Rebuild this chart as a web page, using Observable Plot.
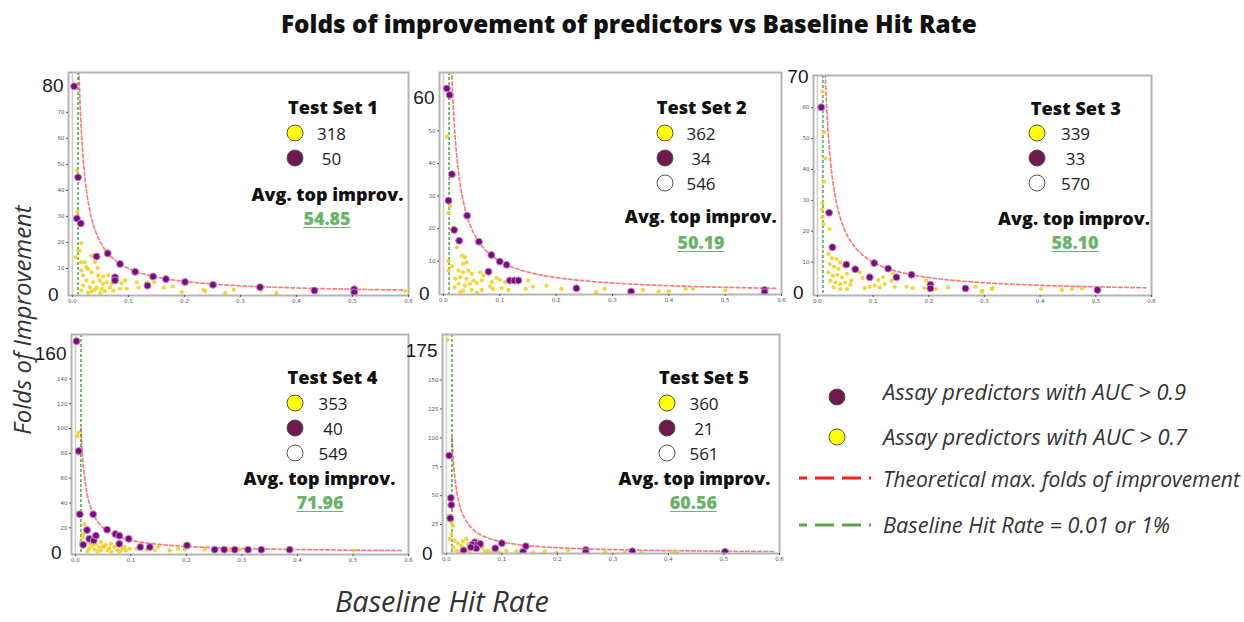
<!DOCTYPE html>
<html>
<head>
<meta charset="utf-8">
<script src="https://cdn.jsdelivr.net/npm/d3@7"></script>
<script src="https://cdn.jsdelivr.net/npm/@observablehq/plot@0.6"></script>
<style>
  html, body { margin: 0; padding: 0; background: #fff; }
  #root { position: relative; width: 1244px; height: 622px; overflow: hidden; font-family: "Open Sans", Lato, sans-serif; color: #111; }
  .abs { position: absolute; white-space: nowrap; line-height: 1; }
  .center { transform: translate(-50%, -50%); }
  .setTitle { font-weight: 800; font-size: 17px; color: #111; }
  .count { font-family: "Open Sans", sans-serif; font-size: 17px; color: #222; }
  .avgLabel { font-weight: 800; font-size: 17px; color: #111; }
  .avgValue { font-weight: 800; font-size: 17px; color: #6ab46a; text-decoration: underline; text-underline-offset: 2px; }
  .swatch { position: absolute; width: 15px; height: 15px; border-radius: 50%; border: 1px solid #555; transform: translate(-50%, -50%); }
  .legendText { font-style: italic; font-size: 18px; color: #333; }
  .axisTitle { font-style: italic; font-size: 19px; color: #333; }
</style>
</head>
<body>
<div id="root"></div>
<script>
// ---- data --------------------------------------------------------------
const setNames = ["Test Set 1", "Test Set 2", "Test Set 3", "Test Set 4", "Test Set 5"];
const countAUC07 = [318, 362, 339, 353, 360];
const countAUC09 = [50, 34, 33, 40, 21];
const countOther = [null, 546, 570, 549, 561];
const avgTopImprovement = [54.85, 50.19, 58.10, 71.96, 60.56];

const baselineHitRate = 0.01;
const xTicks = [0, 0.1, 0.2, 0.3, 0.4, 0.5, 0.6];
const yTicksSmall = [
  [10, 20, 30, 40, 50, 60, 70],
  [10, 20, 30, 40, 50],
  [10, 20, 30, 40, 50, 60],
  [20, 40, 60, 80, 100, 120, 140],
  [25, 50, 75, 100, 125, 150]
];
const yTicksLarge = [80, 60, 70, 160, 175];
const yDomainMin = [-0.4, -0.2, -0.8, -1.5, 0];
const yDomainMax = [85.3, 67.9, 70.4, 175.8, 189.4];

// [baseline hit rate, folds of improvement] per predictor
const set1AUC09 = [[0.003,80],[0.010,45],[0.008,29.2],[0.015,27.3],[0.043,14.6],[0.063,15.8],[0.085,11.7],[0.112,8.7],[0.144,6.9],[0.167,5.9],[0.201,4.8],[0.251,3.7],[0.335,2.8],[0.432,1.5],[0.503,2.0],[0.503,0.8],[0.076,6.6],[0.076,5.4],[0.134,3.4]];
const set1AUC07 = [[0.008,47.4],[0.009,31.8],[0.016,19.7],[0.010,16.8],[0.006,14.3],[0.015,12.4],[0.013,16.9],[0.034,14.9],[0.040,12.4],[0.022,12.4],[0.016,9.2],[0.028,9.8],[0.034,8.5],[0.019,7.3],[0.046,7.3],[0.055,6.9],[0.064,7.3],[0.025,5.4],[0.037,4.7],[0.049,5.4],[0.061,4.7],[0.070,4.1],[0.088,4.3],[0.094,5.4],[0.019,3.4],[0.031,2.8],[0.043,2.6],[0.052,2.2],[0.067,2.6],[0.085,2.2],[0.097,2.2],[0.016,1.5],[0.034,1.3],[0.058,1.3],[0.073,1.5],[0.115,4.7],[0.118,2.6],[0.133,4.7],[0.146,4.7],[0.163,2.6],[0.179,3.1],[0.195,0.9],[0.234,1.8],[0.237,1.3],[0.273,0.5],[0.288,1.8],[0.336,1.5],[0.364,0.5],[0.594,1.3],[0.054,4.1],[0.025,10.5],[0.045,10.2],[0.028,0.6],[0.050,0.5],[0.040,1.8]];

const set2AUC09 = [[0.006,63],[0.011,61],[0.015,36.7],[0.009,28.6],[0.019,19.6],[0.028,16.3],[0.042,24],[0.063,16],[0.085,11.9],[0.100,9.9],[0.112,8.9],[0.080,6.8],[0.118,4.1],[0.126,4.1],[0.133,4.1],[0.236,1.7],[0.333,0.7],[0.570,1.2],[0.570,0.5]];
const set2AUC07 = [[0.006,48.2],[0.009,24.9],[0.012,27],[0.009,10],[0.009,7.1],[0.018,20.4],[0.024,14.3],[0.033,11.7],[0.038,11.2],[0.035,9.2],[0.041,9.7],[0.027,7.1],[0.035,6.6],[0.044,7.1],[0.050,6.1],[0.021,4.6],[0.030,5.1],[0.041,4.6],[0.053,4.1],[0.027,3.1],[0.038,2.5],[0.047,3.1],[0.059,3.3],[0.068,4.1],[0.065,6.6],[0.071,5.6],[0.035,1.0],[0.050,1.2],[0.068,1.2],[0.083,2.2],[0.088,1.5],[0.094,4.9],[0.100,4.3],[0.109,3.6],[0.103,1.8],[0.115,1.2],[0.086,3.6],[0.150,4.1],[0.146,1.5],[0.159,2.2],[0.183,2.5],[0.209,1.5],[0.271,0.5],[0.286,1.5],[0.354,1.2],[0.382,0.7],[0.400,0.8],[0.430,1.5],[0.443,1.5],[0.500,1.0],[0.015,8.5],[0.020,2],[0.030,0.5],[0.060,0.4]];

const set3AUC09 = [[0.007,60.1],[0.021,26],[0.027,14.8],[0.052,9.2],[0.068,7.7],[0.094,5.1],[0.102,9.7],[0.127,7.9],[0.142,5.1],[0.169,5.9],[0.203,2.7],[0.203,1.5],[0.266,1.5],[0.503,1.0]];
const set3AUC07 = [[0.009,65.2],[0.012,52],[0.014,43.6],[0.012,36],[0.009,29],[0.009,24.5],[0.011,22.3],[0.008,27],[0.022,20.7],[0.020,12.6],[0.026,11.3],[0.034,11],[0.041,9.9],[0.022,9.4],[0.030,8.5],[0.038,7.8],[0.047,8.8],[0.020,6.7],[0.028,5.6],[0.036,5.9],[0.044,5.1],[0.053,6.2],[0.023,4.0],[0.032,3.4],[0.041,2.9],[0.050,3.4],[0.059,2.7],[0.029,1.8],[0.041,1.3],[0.053,1.3],[0.061,4.0],[0.076,6.7],[0.081,4.9],[0.085,1.6],[0.094,2.0],[0.103,2.4],[0.109,4.2],[0.118,5.1],[0.121,2.9],[0.133,4.0],[0.112,1.8],[0.139,2.0],[0.136,6.4],[0.160,2.0],[0.171,1.6],[0.195,4.0],[0.192,1.6],[0.213,1.3],[0.235,1.8],[0.284,2.0],[0.296,0.7],[0.313,1.3],[0.402,1.3],[0.439,1.0],[0.457,1.3],[0.475,1.5],[0.315,1.6],[0.295,0.4]];

const set4AUC09 = [[0.002,170.4],[0.006,81.9],[0.008,30.9],[0.032,30.9],[0.021,18.2],[0.057,18.5],[0.072,15],[0.079,13.7],[0.096,11.1],[0.025,11.1],[0.033,9.8],[0.037,13.7],[0.079,7.1],[0.014,6.3],[0.117,4.5],[0.134,4.5],[0.201,5.8],[0.251,2.4],[0.268,2.4],[0.287,2.4],[0.311,2.4],[0.335,2.4],[0.386,2.4]];
const set4AUC07 = [[0.006,96.9],[0.004,94],[0.004,79.8],[0.004,32.2],[0.014,15],[0.013,12.4],[0.016,23],[0.028,7.1],[0.037,6.6],[0.046,8.5],[0.055,6.3],[0.064,7.1],[0.043,4.0],[0.052,4.5],[0.061,3.7],[0.070,4.5],[0.088,4.5],[0.098,3.2],[0.025,3.2],[0.034,2.4],[0.046,1.8],[0.058,1.8],[0.076,1.8],[0.091,1.8],[0.022,1.3],[0.085,3.2],[0.019,7.1],[0.010,8.5],[0.110,3.2],[0.149,4.5],[0.170,1.8],[0.185,3.2],[0.197,2.4],[0.233,2.4],[0.278,1.8],[0.296,2.4],[0.501,1.8],[0.128,2.4],[0.143,1.8],[0.040,0.8],[0.065,0.6],[0.080,0.9],[0.030,5.5],[0.050,5.2]];

const set5AUC09 = [[0.005,84.7],[0.008,48.1],[0.009,42],[0.007,30.5],[0.051,9.7],[0.047,7.7],[0.056,7.7],[0.061,8.3],[0.054,4.5],[0.044,5.4],[0.031,2.5],[0.088,4.5],[0.100,8.9],[0.143,6.3],[0.138,1.6],[0.251,3.1],[0.251,1.1],[0.335,1.9],[0.502,1.6]];
const set5AUC07 = [[0.002,184.8],[0.004,32.8],[0.009,27],[0.012,24.1],[0.006,12.6],[0.015,11.1],[0.021,8.8],[0.030,10.6],[0.036,12.6],[0.027,6.8],[0.012,5.4],[0.018,2.5],[0.033,4.5],[0.039,8.3],[0.057,11.1],[0.024,1.1],[0.042,1.9],[0.075,2.5],[0.081,1.1],[0.090,1.9],[0.096,1.1],[0.108,2.5],[0.126,1.9],[0.156,1.1],[0.177,1.9],[0.198,1.1],[0.219,2.5],[0.286,1.6],[0.322,1.1],[0.352,0.5],[0.406,1.6],[0.415,1.1],[0.009,16.9],[0.065,5],[0.070,2]];

const aucAbove09 = [set1AUC09, set2AUC09, set3AUC09, set4AUC09, set5AUC09];
const aucAbove07 = [set1AUC07, set2AUC07, set3AUC07, set4AUC07, set5AUC07];

// theoretical maximum folds of improvement = 1 / baseline hit rate
const theoreticalMax = d3.range(0.01, 0.5901, 0.0005).map(r => ({rate: r, folds: 1 / r}));

// ---- layout ------------------------------------------------------------
const frames = [
  {x: 68,  y: 72,  w: 340, h: 223},
  {x: 439, y: 72,  w: 342, h: 222},
  {x: 813, y: 75,  w: 338, h: 220},
  {x: 71,  y: 334, w: 337, h: 220},
  {x: 442, y: 334, w: 337, h: 219}
];
const annot = [
  {title: [333, 107],   sw: 295,   rows: [133, 158, 183],     num: 331.5, avg: [327.5, 195], val: [327, 219]},
  {title: [701.7, 107], sw: 665,   rows: [133, 158, 183],     num: 701,   avg: [700.8, 217], val: [701, 243]},
  {title: [1075.8, 108],sw: 1036.7,rows: [132.7, 158.3, 183.3],num: 1075.5,avg: [1074, 219], val: [1075, 242.7]},
  {title: [332.5, 377], sw: 295,   rows: [402.7, 428, 453.3], num: 333,   avg: [319.5, 479.3], val: [320, 502.7]},
  {title: [704, 377],   sw: 666.7, rows: [402.7, 428, 453.3], num: 704,   avg: [694.5, 479], val: [693.3, 502.7]}
];
const M = {l: 40, r: 4, t: 4, b: 14};

const root = document.getElementById("root");

function addText(txt, cls, x, y, extra) {
  const el = document.createElement("div");
  el.className = "abs " + cls;
  el.textContent = txt;
  el.style.left = x + "px";
  el.style.top = y + "px";
  if (extra) Object.assign(el.style, extra);
  root.appendChild(el);
  return el;
}
function fitWidth(el, target) {
  const w = el.offsetWidth;
  const fs = parseFloat(getComputedStyle(el).fontSize);
  el.style.fontSize = (fs * target / w) + "px";
}
function addSwatch(x, y, fill) {
  const el = document.createElement("div");
  el.className = "swatch";
  el.style.left = x + "px";
  el.style.top = y + "px";
  el.style.background = fill;
  root.appendChild(el);
}

// ---- panels ------------------------------------------------------------
frames.forEach((f, i) => {
  const svg = Plot.plot({
    width: f.w + M.l + M.r,
    height: f.h + M.t + M.b,
    marginLeft: M.l, marginRight: M.r, marginTop: M.t, marginBottom: M.b,
    x: {domain: [-0.007, 0.6], axis: null, label: null},
    y: {domain: [yDomainMin[i], yDomainMax[i]], axis: null, label: null},
    style: {overflow: "visible", background: "transparent", fontFamily: "DejaVu Sans"},
    marks: [
      Plot.ruleX([0], {stroke: "#cfcfcf", strokeWidth: 1.5}),
      Plot.line(theoreticalMax, {x: "rate", y: "folds", stroke: "#ff4d4d", strokeOpacity: 0.75, strokeWidth: 1.7, strokeDasharray: "3.5,2.5", clip: true}),
      Plot.ruleX([baselineHitRate], {stroke: "#2f9b2f", strokeWidth: 1.3, strokeDasharray: "3,2"}),
      Plot.dot(aucAbove07[i], {x: d => d[0], y: d => d[1], r: 2.1, fill: "#f5cf1d", fillOpacity: 0.9, clip: true}),
      Plot.dot(aucAbove09[i], {x: d => d[0], y: d => d[1], r: 3.5, fill: "#7a0a7e", stroke: "#c88ac8", strokeWidth: 1, clip: true}),
      Plot.frame({stroke: "#b4b4b4", strokeWidth: 2}),
      Plot.axisX(xTicks, {tickSize: 2, tickPadding: 1.5, fontSize: 5.5, color: "#555", tickFormat: d3.format(".1f")}),
      Plot.axisY(yTicksSmall[i], {tickSize: 2, tickPadding: 2, fontSize: 5.5, color: "#555"}),
      Plot.axisY([yTicksLarge[i]], {tickSize: 0, tickPadding: 5, fontSize: 19, color: "#1a1a1a", fontFamily: "Liberation Sans"}),
      Plot.axisY([0], {tickSize: 0, tickPadding: 10, fontSize: 19, color: "#1a1a1a", fontFamily: "Liberation Sans"})
    ]
  });
  svg.style.position = "absolute";
  svg.style.left = (f.x - M.l) + "px";
  svg.style.top = (f.y - M.t) + "px";
  root.appendChild(svg);

  // per-panel annotation block
  const a = annot[i];
  fitWidth(addText(setNames[i], "setTitle center", a.title[0], a.title[1]), 90);
  const counts = [[countAUC07[i], "#ffff00"], [countAUC09[i], "#6e1a4c"], [countOther[i], "#ffffff"]];
  counts.forEach(([c, col], k) => {
    if (c == null) return;
    addSwatch(a.sw, a.rows[k], col);
    addText(String(c), "count center", a.num, a.rows[k]);
  });
  const avgEl = addText("Avg. top improv.", "avgLabel center", a.avg[0], a.avg[1]);
  fitWidth(avgEl, 152);
  addText(avgTopImprovement[i].toFixed(2), "avgValue center", a.val[0], a.val[1], {fontSize: avgEl.style.fontSize});
});

// ---- title and axis titles --------------------------------------------
const title = addText("Folds of improvement of predictors vs Baseline Hit Rate", "", 281, 12, {fontWeight: 800, fontSize: "21px", color: "#111"});
fitWidth(title, 696);

const xTitle = addText("Baseline Hit Rate", "axisTitle center", 442, 601);
fitWidth(xTitle, 214);
const yTitle = addText("Folds of Improvement", "axisTitle", 22, 320, {transform: "translate(-50%, -50%) rotate(-90deg)"});
fitWidth(yTitle, 230);

// ---- shared legend -----------------------------------------------------
addSwatch(836.7, 396.7, "#6e1a4c");
addSwatch(836.7, 436.7, "#ffff00");
const legendLines = [
  {y: 478.3, color: "#ff1f1f"},
  {y: 525, color: "#5aa64f"}
];
legendLines.forEach(l => {
  const s = d3.create("svg").attr("width", 72).attr("height", 6)
    .style("position", "absolute").style("left", "799px").style("top", (l.y - 3) + "px");
  s.append("line").attr("x1", 0).attr("x2", 72).attr("y1", 3).attr("y2", 3)
    .attr("stroke", l.color).attr("stroke-width", 3).attr("stroke-dasharray", "19,8").attr("stroke-dashoffset", 11);
  root.appendChild(s.node());
});
const legendItems = [
  ["Assay predictors with AUC > 0.9", 392, 303],
  ["Assay predictors with AUC > 0.7", 437, 304],
  ["Theoretical max. folds of improvement", 479, 357],
  ["Baseline Hit Rate = 0.01 or 1%", 525, 287]
];
legendItems.forEach(([t, y, w]) => {
  const el = addText(t, "legendText", 883, y, {transform: "translateY(-50%)"});
  fitWidth(el, w);
});
</script>
</body>
</html>
